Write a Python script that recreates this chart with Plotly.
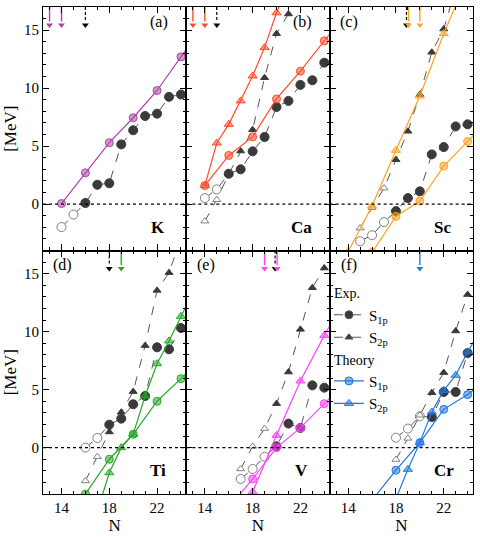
import plotly.graph_objects as go
from plotly.subplots import make_subplots

# ---- data (N, MeV) ----
K_s1p_exp_n = [14, 15, 16, 17, 18, 19, 20, 21, 22, 23, 24]
K_s1p_exp = [-1.98, -0.9, 0.1, 1.67, 1.8, 5.15, 6.37, 7.6, 7.8, 9.25, 9.45]
K_s2p_exp_n = []
K_s2p_exp = []
K_open_n = [14, 15]
K_s1p_th_n = [14, 16, 18, 20, 22, 24, 26]
K_s1p_th = [0.05, 2.7, 5.3, 7.45, 9.8, 12.7, 15.6]
K_s2p_th_n = []
K_s2p_th = []
K_drip_th = [13, 14]
K_drip_exp = [16]

Ca_s1p_exp_n = [14, 15, 16, 17, 18, 19, 20, 21, 22, 23, 24]
Ca_s1p_exp = [0.52, 1.27, 2.62, 3.0, 4.55, 5.79, 8.38, 8.9, 10.28, 10.68, 12.2]
Ca_s2p_exp_n = [14, 15, 16, 17, 18, 19, 20, 21, 22]
Ca_s2p_exp = [-1.47, 0.38, 2.6, 4.58, 6.42, 10.9, 14.7, 16.4, 19.0]
Ca_open_n = [14, 15]
Ca_s1p_th_n = [14, 16, 18, 20, 22, 24, 26]
Ca_s1p_th = [1.6, 4.2, 5.8, 9.07, 11.46, 14.08, 16.7]
Ca_s2p_th_n = [14, 15, 16, 17, 18, 19, 20, 21]
Ca_s2p_th = [1.6, 5.27, 6.88, 8.9, 11.05, 13.5, 16.5, 19.0]
Ca_drip_th = [13, 14]
Ca_drip_exp = [15]

Sc_s1p_exp_n = [15, 16, 17, 18, 19, 20, 21, 22, 23, 24]
Sc_s1p_exp = [-3.2, -2.68, -1.55, -0.6, 0.52, 1.1, 4.29, 4.92, 6.7, 6.88]
Sc_s2p_exp_n = [15, 16, 17, 18, 19, 20, 21, 22, 23]
Sc_s2p_exp = [-2.07, -0.3, 1.38, 3.83, 6.28, 9.45, 13.1, 15.1, 18.6]
Sc_open_n = [15, 16, 17]
Sc_s1p_th_n = [16, 18, 20, 22, 24, 26]
Sc_s1p_th = [-4.16, -1.06, 0.26, 3.28, 5.41, 7.5]
Sc_s2p_th_n = [14, 16, 18, 20, 22, 24]
Sc_s2p_th = [-4.1, -0.17, 4.64, 9.33, 14.7, 19.5]
Sc_drip_th = [19, 20]
Sc_drip_exp = [19]

Ti_s1p_exp_n = [16, 17, 18, 19, 20, 21, 22, 23, 24]
Ti_s1p_exp = [0.0, 0.83, 1.98, 2.5, 3.74, 4.45, 8.65, 8.48, 10.32]
Ti_s2p_exp_n = [16, 17, 18, 19, 20, 21, 22, 23, 24]
Ti_s2p_exp = [-2.87, -0.78, 1.35, 3.05, 4.83, 8.8, 13.56, 15.09, 18.0]
Ti_open_n = [16, 17]
Ti_s1p_th_n = [14, 16, 18, 20, 22, 24, 26]
Ti_s1p_th = [-7.0, -4.0, -1.0, 1.15, 4.0, 5.95, 8.0]
Ti_s2p_th_n = [17, 18, 19, 20, 21, 22, 23, 24, 25]
Ti_s2p_th = [-5.5, -2.17, 0.0, 1.15, 4.45, 7.24, 9.2, 11.32, 13.4]
Ti_drip_th = [19]
Ti_drip_exp = [18]

V_s1p_exp_n = [17, 18, 19, 20, 21, 22, 23, 24]
V_s1p_exp = [-2.7, -1.84, -0.78, 0.11, 2.07, 1.7, 5.37, 5.17]
V_s2p_exp_n = [17, 18, 19, 20, 21, 22, 23, 24]
V_s2p_exp = [-1.84, 0.11, 1.64, 3.79, 6.52, 10.2, 13.79, 15.49]
V_open_n = [17, 18, 19]
V_s1p_th_n = [16, 18, 20, 22, 24, 26]
V_s1p_th = [-5.2, -2.7, 0.0, 1.7, 3.79, 5.9]
V_s2p_th_n = [16, 18, 20, 22, 24, 26]
V_s2p_th = [-9.0, -3.82, 1.06, 5.75, 9.68, 13.3]
V_drip_th = [19, 20]
V_drip_exp = [20]

Cr_s1p_exp_n = [18, 19, 20, 21, 22, 23, 24]
Cr_s1p_exp = [0.86, 1.64, 2.7, 2.64, 4.8, 4.8, 8.16]
Cr_s2p_exp_n = [18, 19, 20, 21, 22, 23, 24]
Cr_s2p_exp = [-1.03, 0.8, 2.79, 4.74, 6.47, 10.06, 13.2]
Cr_open_n = [18, 19, 20]
Cr_s1p_th_n = [16, 18, 20, 22, 24, 26]
Cr_s1p_th = [-4.55, -1.95, 0.43, 3.3, 4.57, 6.2]
Cr_s2p_th_n = [18, 19, 20, 21, 22, 23, 24, 25]
Cr_s2p_th = [-4.4, -1.87, 0.43, 3.07, 4.94, 6.24, 8.25, 10.0]
Cr_drip_th = [20]
Cr_drip_exp = []

elements = ['K', 'Ca', 'Sc', 'Ti', 'V', 'Cr']
panel_tags = ['(a)', '(b)', '(c)', '(d)', '(e)', '(f)']

# ---- styling ----
COLORS = {'K': (168, 69, 168), 'Ca': (255, 74, 42), 'Sc': (255, 162, 31),
          'Ti': (40, 168, 40), 'V': (255, 64, 255), 'Cr': (31, 120, 224)}
EXP_DARK = '#3a3a3a'
EXP_LINE = '#555555'
OPEN_EDGE = '#808080'
FONT = 'Liberation Serif'
YTOP = 17
ARROW_TIP = 15.45


def rgb(c, a=1.0):
    return 'rgba(%d,%d,%d,%.2f)' % (c[0], c[1], c[2], a)


fig = make_subplots(rows=2, cols=3, shared_xaxes=True, shared_yaxes=True,
                    horizontal_spacing=0, vertical_spacing=0)

data = globals()
for i, el in enumerate(elements):
    row, col = i // 3 + 1, i % 3 + 1
    col_rgb = COLORS[el]
    open_n = data[el + '_open_n']

    # experiment: dashed lines, open markers for extrapolated values
    for kind, sym, size in (('s1p', 'circle', 9), ('s2p', 'triangle-up', 7)):
        xs = data['%s_%s_exp_n' % (el, kind)]
        ys = data['%s_%s_exp' % (el, kind)]
        if not xs:
            continue
        fill = ['white' if n in open_n else EXP_DARK for n in xs]
        edge = [OPEN_EDGE if n in open_n else EXP_DARK for n in xs]
        fig.add_trace(go.Scatter(
            x=xs, y=ys, mode='lines+markers', showlegend=False,
            line=dict(color=EXP_LINE, width=1, dash='dash'),
            marker=dict(symbol=sym, size=size, color=fill,
                        line=dict(color=edge, width=1))),
            row=row, col=col)

    # theory: solid lines, translucent markers
    for kind, sym, size in (('s1p', 'circle', 8), ('s2p', 'triangle-up', 8)):
        xs = data['%s_%s_th_n' % (el, kind)]
        ys = data['%s_%s_th' % (el, kind)]
        if not xs:
            continue
        fig.add_trace(go.Scatter(
            x=xs, y=ys, mode='lines+markers', showlegend=False,
            line=dict(color=rgb(col_rgb), width=1.2),
            marker=dict(symbol=sym, size=size, color=rgb(col_rgb, 0.55),
                        line=dict(color=rgb(col_rgb), width=1))),
            row=row, col=col)

    # drip line arrows from the top of the panel
    drip_th = data[el + '_drip_th']
    drip_exp = data[el + '_drip_exp']
    for n in drip_exp:
        xn = n - 0.12 if n in drip_th else n
        fig.add_trace(go.Scatter(
            x=[xn, xn], y=[YTOP, ARROW_TIP + 0.3], mode='lines', showlegend=False,
            line=dict(color='black', width=1.2, dash='3px,2px')), row=row, col=col)
        fig.add_trace(go.Scatter(
            x=[xn], y=[ARROW_TIP], mode='markers', showlegend=False,
            marker=dict(symbol='triangle-down', size=6, color='black')), row=row, col=col)
    for n in drip_th:
        xn = n + 0.05 if n in drip_exp else n
        fig.add_trace(go.Scatter(
            x=[xn, xn], y=[YTOP, ARROW_TIP + 0.3], mode='lines', showlegend=False,
            line=dict(color=rgb(col_rgb), width=1.4)), row=row, col=col)
        fig.add_trace(go.Scatter(
            x=[xn], y=[ARROW_TIP], mode='markers', showlegend=False,
            marker=dict(symbol='triangle-down', size=6, color=rgb(col_rgb))), row=row, col=col)

    fig.add_hline(y=0, line=dict(color='black', width=1.2, dash='dot'), row=row, col=col)

    suffix = '' if i == 0 else str(i + 1)
    tag_x = 0.81 if i < 2 else 0.135
    fig.add_annotation(text=panel_tags[i], xref='x%s domain' % suffix, yref='y%s domain' % suffix,
                       x=tag_x, y=0.94, xanchor='center', yanchor='middle', showarrow=False,
                       font=dict(family=FONT, size=16, color='black'))
    fig.add_annotation(text='<b>%s</b>' % el, xref='x%s domain' % suffix, yref='y%s domain' % suffix,
                       x=0.785 if el == 'Sc' else 0.80, y=0.095,
                       xanchor='center', yanchor='middle', showarrow=False,
                       font=dict(family=FONT, size=17, color='black'))

# legend-only entries (drawn in panel f)
cr = COLORS['Cr']
legend_items = [
    ('exp', 'Exp.', 'circle', 8, EXP_DARK, EXP_LINE, 'dash'),
    ('exp', 'Exp.', 'triangle-up', 7, EXP_DARK, EXP_LINE, 'dash'),
    ('th', 'Theory', 'circle', 8, rgb(cr, 0.55), rgb(cr), 'solid'),
    ('th', 'Theory', 'triangle-up', 8, rgb(cr, 0.55), rgb(cr), 'solid'),
]
for k, (grp, title, sym, size, fill, lc, dash) in enumerate(legend_items):
    fig.add_trace(go.Scatter(
        x=[None], y=[None], mode='lines+markers', legendgroup=grp,
        legendgrouptitle=dict(text=title, font=dict(family=FONT, size=14, color='black')),
        name='S<sub>%s</sub>' % ('1p' if k % 2 == 0 else '2p'),
        line=dict(color=lc, width=1.2, dash=dash),
        marker=dict(symbol=sym, size=size, color=fill, line=dict(color=lc, width=1))),
        row=2, col=3)

fig.update_xaxes(range=[12.45, 24.45], tick0=14, dtick=4, ticks='inside', ticklen=6,
                 tickwidth=1.2, tickcolor='black', mirror='allticks', showline=True,
                 linewidth=1.2, linecolor='black', showgrid=False, zeroline=False,
                 automargin=False,
                 minor=dict(dtick=1, ticks='inside', ticklen=3, tickcolor='black', showgrid=False),
                 tickfont=dict(family=FONT, size=15, color='black'))
fig.update_yaxes(range=[-4, 17], tick0=0, dtick=5, ticks='inside', ticklen=6,
                 tickwidth=1.2, tickcolor='black', mirror='allticks', showline=True,
                 linewidth=1.2, linecolor='black', showgrid=False, zeroline=False,
                 automargin=False,
                 minor=dict(dtick=1, ticks='inside', ticklen=3, tickcolor='black', showgrid=False),
                 tickfont=dict(family=FONT, size=15, color='black'))
for c in (1, 2, 3):
    fig.update_xaxes(title=dict(text='N', font=dict(family=FONT, size=17, color='black'),
                                standoff=0), row=2, col=c)
for r in (1, 2):
    fig.update_yaxes(title=dict(text='[MeV]', font=dict(family=FONT, size=17, color='black'),
                                standoff=2), row=r, col=1)

fig.update_layout(
    width=480, height=537,
    margin=dict(l=43, r=7, t=7, b=43, autoexpand=False),
    plot_bgcolor='white', paper_bgcolor='white',
    font=dict(family=FONT, color='black'),
    legend=dict(x=0.665, y=0.445, xanchor='left', yanchor='top',
                bgcolor='rgba(0,0,0,0)', traceorder='grouped', tracegroupgap=0,
                itemwidth=30, font=dict(family=FONT, size=15, color='black')),
)

# the page's default body margin would shift the figure by 8px
fig.write_html("out.html", config={'displayModeBar': False},
               post_script="document.body.style.margin='0';")
